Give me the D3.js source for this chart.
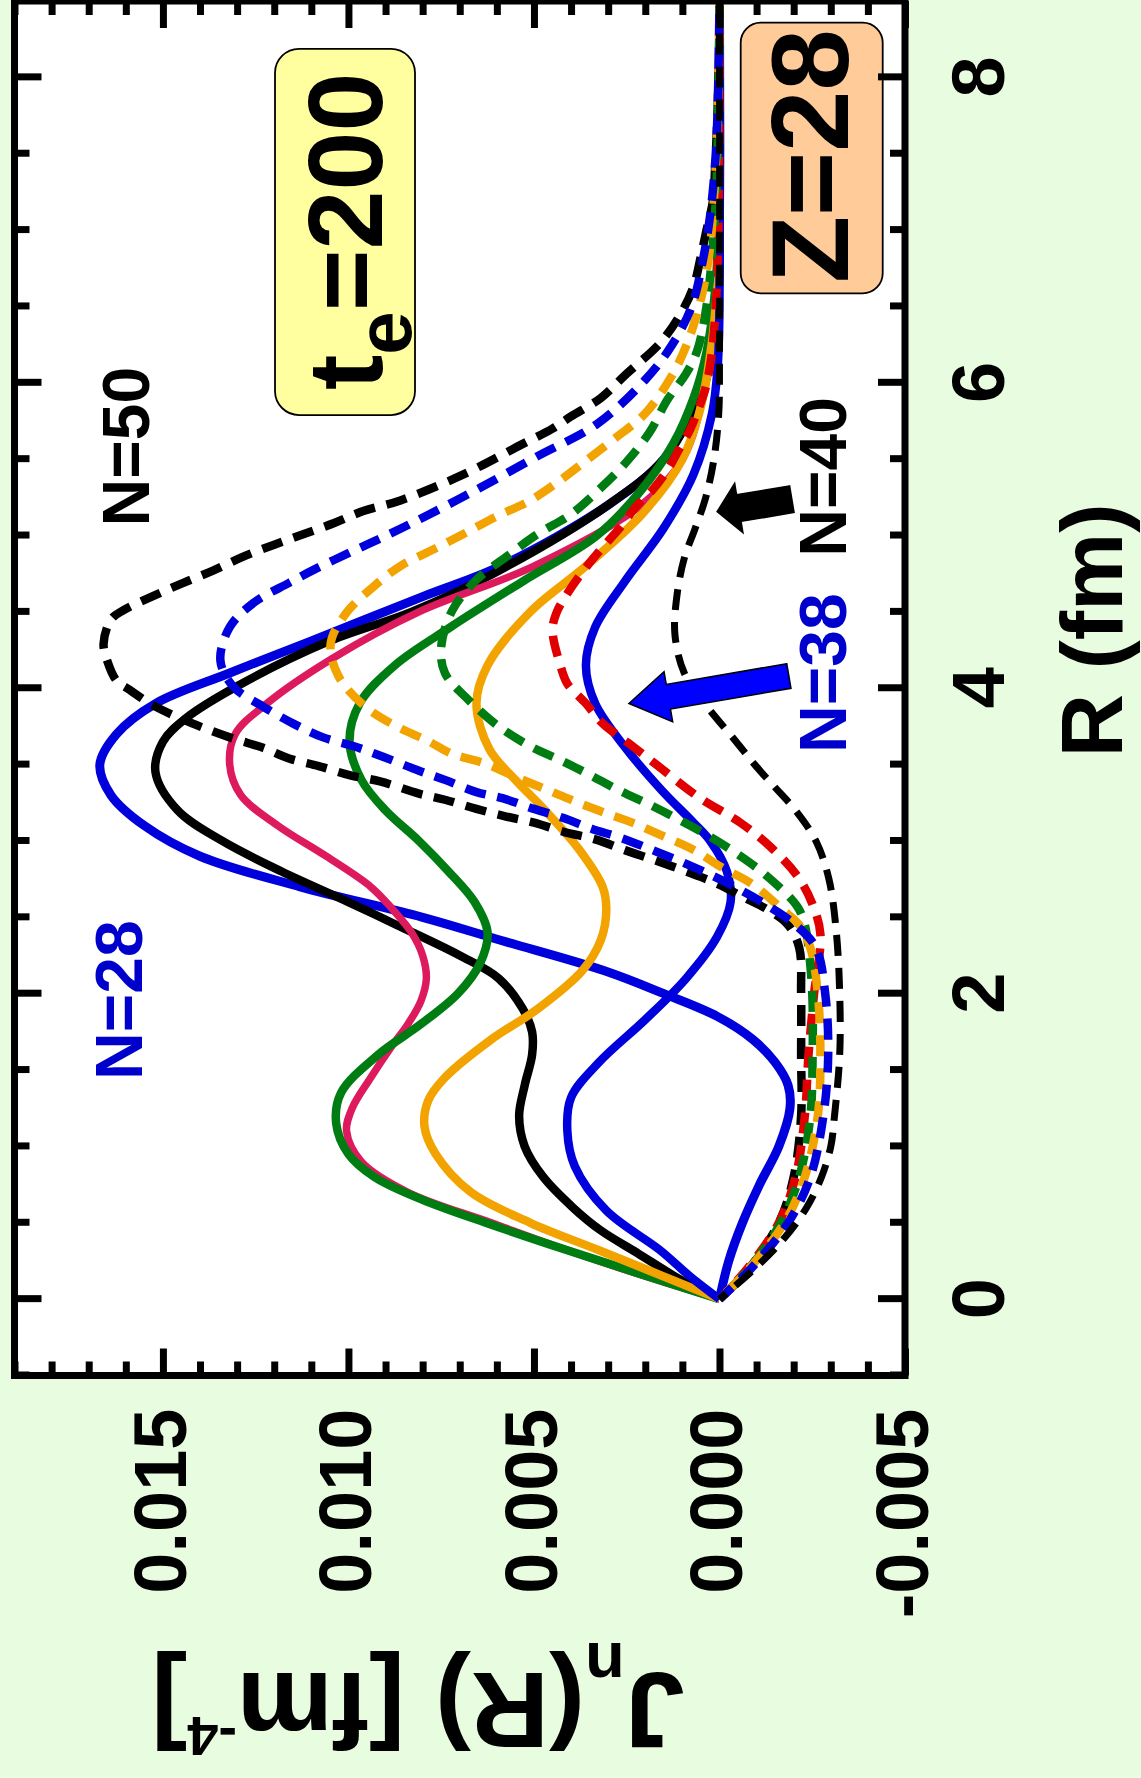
<!DOCTYPE html>
<html>
<head>
<meta charset="utf-8">
<script src="https://cdn.jsdelivr.net/npm/d3@7"></script>
<style>
  body { margin: 0; background: #e8fce0; }
  svg text { font-family: "Liberation Sans", Arial, sans-serif; font-weight: bold; }
</style>
</head>
<body>
<svg id="chart" width="1141" height="1778"></svg>
<script>
// Each series is [R (fm), J_n (1e-3 fm^-4)].
const n28 = [[0,0],[0.25,-0.25],[0.5,-0.62],[0.75,-1.08],[1.0,-1.6],[1.25,-1.9],[1.4,-1.85],[1.55,-1.5],[1.7,-0.9],[1.85,0.05],[2.0,1.5],[2.15,3.1],[2.35,5.9],[2.5,8.0],[2.7,11.3],[2.9,14.0],[3.1,15.5],[3.3,16.4],[3.5,16.7],[3.7,16.25],[3.9,15.2],[4.1,13.2],[4.3,11.1],[4.6,8.0],[4.8,5.9],[5.2,3.0],[5.5,1.5],[5.85,0.7],[6.1,0.3],[6.5,0.05],[7.0,0],[8.5,0]];
const n30 = [[0,0],[0.12,1.0],[0.3,2.2],[0.45,3.2],[0.6,3.95],[0.8,4.75],[1.0,5.25],[1.2,5.4],[1.4,5.25],[1.6,5.05],[1.75,5.05],[1.9,5.3],[2.1,5.95],[2.25,7.0],[2.45,8.7],[2.6,10.0],[2.8,11.8],[3.0,13.4],[3.2,14.6],[3.45,15.2],[3.65,15.0],[3.8,14.4],[4.0,13.1],[4.3,10.6],[4.5,8.3],[4.75,6.1],[5.2,3.0],[5.5,1.5],[5.85,0.65],[6.1,0.27],[6.5,0.05],[7.0,0],[8.5,0]];
const n32 = [[0,0],[0.15,2.0],[0.32,4.1],[0.5,6.15],[0.7,8.4],[0.9,9.65],[1.1,10.05],[1.25,9.9],[1.45,9.4],[1.65,8.85],[1.8,8.4],[1.95,8.05],[2.1,7.9],[2.25,8.0],[2.4,8.3],[2.55,8.8],[2.7,9.4],[2.9,10.6],[3.1,11.9],[3.3,12.9],[3.5,13.2],[3.7,13.05],[3.9,12.2],[4.2,10.4],[4.5,8.1],[4.8,5.0],[5.2,2.1],[5.5,1.0],[5.9,0.45],[6.35,0.15],[7.0,0],[8.5,0]];
const n34 = [[0,0],[0.32,4.1],[0.5,6.3],[0.65,8.0],[0.8,9.3],[0.95,10.0],[1.15,10.33],[1.35,10.2],[1.6,9.2],[1.8,8.05],[2.0,7.05],[2.2,6.45],[2.4,6.25],[2.6,6.6],[2.8,7.3],[3.0,8.1],[3.2,9.0],[3.4,9.65],[3.65,9.97],[3.9,9.7],[4.15,8.75],[4.4,7.25],[4.7,5.3],[5.0,3.3],[5.3,2.1],[5.6,1.25],[5.9,0.7],[6.2,0.35],[6.6,0.12],[7.0,0.03],[8.5,0]];
const n36 = [[0,0],[0.32,3.25],[0.5,5.1],[0.7,6.7],[0.95,7.65],[1.13,7.95],[1.3,7.85],[1.45,7.4],[1.7,6.15],[1.9,4.9],[2.15,3.7],[2.35,3.2],[2.55,3.05],[2.7,3.15],[2.95,3.8],[3.2,4.7],[3.4,5.5],[3.6,6.2],[3.9,6.55],[4.15,6.25],[4.5,5.1],[4.8,3.6],[5.15,2.05],[5.5,1.0],[5.8,0.55],[6.1,0.3],[6.5,0.1],[7.0,0.02],[8.5,0]];
const n38 = [[0,0],[0.15,0.8],[0.32,1.6],[0.58,3.05],[0.87,3.9],[1.1,4.1],[1.32,4.0],[1.55,3.25],[1.83,2.0],[2.1,0.9],[2.37,0.07],[2.6,-0.3],[2.8,-0.2],[3.0,0.25],[3.12,0.7],[3.33,1.55],[3.6,2.5],[3.9,3.35],[4.15,3.6],[4.4,3.35],[4.7,2.55],[5.05,1.5],[5.4,0.7],[5.8,0.2],[6.1,0.05],[6.5,0],[8.5,0]];
const n40 = [[0,0],[0.2,-0.95],[0.4,-1.75],[0.6,-2.35],[0.8,-2.75],[1.0,-3.0],[1.2,-3.1],[1.6,-3.24],[2.0,-3.24],[2.4,-3.15],[2.75,-2.95],[3.0,-2.6],[3.2,-2.05],[3.35,-1.5],[3.5,-0.95],[3.65,-0.45],[3.9,0.4],[4.1,0.95],[4.35,1.2],[4.6,1.15],[4.85,0.95],[5.05,0.65],[5.25,0.37],[5.5,0.15],[5.8,0.02],[6.2,0],[8.5,0]];
const n42 = [[0,0],[0.2,-0.75],[0.5,-1.6],[0.8,-2.05],[1.2,-2.3],[1.6,-2.4],[2.0,-2.55],[2.39,-2.72],[2.59,-2.5],[2.77,-2.1],[2.96,-1.38],[3.12,-0.56],[3.29,0.58],[3.5,1.7],[3.64,2.45],[3.77,3.15],[3.9,3.6],[4.03,4.1],[4.16,4.3],[4.38,4.5],[4.49,4.4],[4.62,4.1],[4.8,3.57],[4.95,3.05],[5.06,2.65],[5.19,2.25],[5.3,1.8],[5.43,1.4],[5.56,1.1],[5.69,0.8],[5.82,0.58],[5.97,0.37],[6.17,0.22],[6.5,0.1],[7.0,0.03],[7.5,0.01],[8.5,0]];
const n44 = [[0,0],[0.2,-0.8],[0.5,-1.65],[0.8,-2.15],[1.2,-2.45],[1.6,-2.51],[2.0,-2.5],[2.3,-2.4],[2.45,-2.3],[2.57,-2.1],[2.77,-1.28],[2.92,-0.45],[3.03,0.27],[3.14,1.1],[3.24,1.9],[3.33,2.7],[3.44,3.55],[3.53,4.3],[3.62,5.1],[3.75,5.95],[3.92,6.75],[4.1,7.4],[4.27,7.5],[4.51,7.2],[4.71,6.55],[4.86,5.75],[5.01,4.9],[5.14,4.0],[5.3,3.25],[5.47,2.55],[5.67,1.9],[5.89,1.4],[6.06,0.9],[6.21,0.6],[6.5,0.35],[6.9,0.18],[7.3,0.08],[8.0,0.02],[8.5,0]];
const n46 = [[0,0],[0.2,-0.8],[0.5,-1.75],[0.8,-2.3],[1.2,-2.65],[1.6,-2.72],[2.0,-2.65],[2.3,-2.45],[2.45,-2.15],[2.55,-1.7],[2.72,-0.87],[2.83,-0.04],[2.94,0.68],[3.03,1.5],[3.12,2.35],[3.19,3.15],[3.26,3.9],[3.33,4.6],[3.42,5.5],[3.51,6.35],[3.57,7.2],[3.66,7.9],[3.75,8.7],[3.88,9.55],[4.08,10.27],[4.29,10.48],[4.49,10.07],[4.66,9.35],[4.8,8.6],[4.91,7.7],[5.01,6.9],[5.12,6.05],[5.23,5.1],[5.36,4.3],[5.49,3.6],[5.63,2.85],[5.8,2.0],[6.04,1.3],[6.24,0.9],[6.5,0.55],[6.8,0.3],[7.2,0.15],[7.6,0.07],[8.0,0.03],[8.5,0]];
const n48 = [[0,0],[0.2,-0.85],[0.5,-1.85],[0.8,-2.45],[1.2,-2.8],[1.6,-2.93],[2.0,-2.85],[2.3,-2.6],[2.45,-2.05],[2.58,-1.28],[2.68,-0.56],[2.77,0.17],[2.86,1.0],[2.94,1.8],[3.02,2.65],[3.08,3.45],[3.15,4.2],[3.21,5.0],[3.28,5.85],[3.32,6.55],[3.4,7.4],[3.46,8.1],[3.55,9.05],[3.62,9.85],[3.68,10.7],[3.77,11.5],[3.88,12.3],[4.01,13.1],[4.18,13.45],[4.4,13.2],[4.56,12.55],[4.69,11.6],[4.78,10.9],[4.89,9.95],[4.98,9.15],[5.08,8.3],[5.28,6.7],[5.52,4.9],[5.73,3.3],[6.02,2.0],[6.24,1.3],[6.5,0.75],[6.8,0.45],[7.1,0.25],[7.5,0.1],[8.0,0.03],[8.5,0]];
const n50 = [[0,0],[0.2,-0.8],[0.5,-1.6],[0.8,-2.0],[1.2,-2.2],[1.6,-2.2],[2.0,-2.2],[2.3,-2.15],[2.45,-1.85],[2.55,-1.3],[2.63,-0.66],[2.72,0.06],[2.8,0.9],[2.87,1.7],[2.94,2.55],[3.01,3.35],[3.06,4.2],[3.12,5.0],[3.16,5.75],[3.21,6.55],[3.27,7.4],[3.31,8.1],[3.39,9.15],[3.43,9.95],[3.49,10.8],[3.54,11.6],[3.61,12.3],[3.67,13.1],[3.74,13.9],[3.81,14.6],[3.9,15.35],[3.99,15.9],[4.05,16.25],[4.18,16.5],[4.29,16.6],[4.45,16.4],[4.51,16.07],[4.6,15.3],[4.69,14.45],[4.77,13.65],[4.86,12.85],[4.94,12.0],[5.01,11.2],[5.08,10.4],[5.16,9.6],[5.23,8.6],[5.4,6.9],[5.6,5.3],[5.7,4.5],[5.78,4.0],[5.9,3.2],[6.06,2.5],[6.26,1.6],[6.45,1.05],[6.63,0.7],[6.83,0.5],[7.0,0.35],[7.2,0.17],[7.4,0.12],[7.6,0.08],[7.8,0.05],[8.0,0.03],[8.2,0.01],[8.5,0]];

const rTicks = [0, 2, 4, 6, 8];
const rTickLabels = ['0', '2', '4', '6', '8'];
const jTicks = [-5, 0, 5, 10, 15];
const jTickLabels = ['-0.005', '0.000', '0.005', '0.010', '0.015'];

// Arrow anchors [R, J].
const arrow38 = { tip: [3.90, 2.44], tail: [4.08, -1.87] };
const arrow40 = { tip: [5.156, 0.064], tail: [5.238, -1.95] };

// Styling per series; solid lines first, dashed drawn on top.
const series = [
  { data: n28, color: '#0000dd', width: 9 },
  { data: n30, color: '#000000', width: 8.5 },
  { data: n32, color: '#de1a5f', width: 7.5 },
  { data: n34, color: '#007d12', width: 8.5 },
  { data: n36, color: '#f2a300', width: 8.5 },
  { data: n38, color: '#0000dd', width: 8.5 },
  { data: n50, color: '#000000', width: 8.5, dash: '21,12', offset: 0 },
  { data: n42, color: '#e00000', width: 8.5, dash: '21,12', offset: 8 },
  { data: n44, color: '#007d12', width: 8.5, dash: '21,12', offset: 16 },
  { data: n46, color: '#f2a300', width: 8.5, dash: '21,12', offset: 24 },
  { data: n48, color: '#0000dd', width: 8.5, dash: '21,12', offset: 4 },
  { data: n40, color: '#000000', width: 7, dash: '21,12', offset: 12 },
];

// The whole plot is drawn unrotated (R along x) and then turned by -90 degrees.
const W = 1374.5, H = 890.5;
const OX = 14.5, OY = 1375.5;
const FONT = '"Liberation Sans", Arial, sans-serif';

const svg = d3.select('#chart');
const g = svg.append('g').attr('transform', `translate(${OX},${OY}) rotate(-90)`);

const x = d3.scaleLinear().domain([-0.5, 8.5]).range([0, W]);
const y = d3.scaleLinear().domain([-5, 19]).range([H, 0]);

g.append('rect').attr('width', W).attr('height', H).attr('fill', '#fff');

svg.append('defs').append('clipPath').attr('id', 'plot-clip')
  .append('rect').attr('width', W).attr('height', H);

const line = d3.line()
  .x((d) => x(d[0]))
  .y((d) => y(d[1]))
  .curve(d3.curveCatmullRom.alpha(0.5));

g.append('g').attr('clip-path', 'url(#plot-clip)')
  .selectAll('path')
  .data(series)
  .join('path')
    .attr('d', (d) => line(d.data))
    .attr('fill', 'none')
    .attr('stroke', (d) => d.color)
    .attr('stroke-width', (d) => d.width)
    .attr('stroke-dasharray', (d) => d.dash || null)
    .attr('stroke-dashoffset', (d) => d.offset || 0)
    .attr('stroke-linejoin', 'round');

// Block arrows pointing at the N=38 and N=40 curves.
const arrowPath = (a, shaft, head, headLen) => {
  const tip = [x(a.tip[0]), y(a.tip[1])];
  const tail = [x(a.tail[0]), y(a.tail[1])];
  const len = Math.hypot(tip[0] - tail[0], tip[1] - tail[1]);
  const u = [(tip[0] - tail[0]) / len, (tip[1] - tail[1]) / len];
  const n = [-u[1], u[0]];
  const base = [tip[0] - u[0] * headLen, tip[1] - u[1] * headLen];
  const pt = (p, k) => [p[0] + n[0] * k, p[1] + n[1] * k];
  return d3.line()([
    pt(tail, shaft / 2), pt(base, shaft / 2), pt(base, head / 2), tip,
    pt(base, -head / 2), pt(base, -shaft / 2), pt(tail, -shaft / 2),
  ]) + 'Z';
};

g.append('path').attr('d', arrowPath(arrow38, 25, 51, 40))
  .attr('fill', '#0000ff').attr('stroke', '#000').attr('stroke-width', 1.5);
g.append('path').attr('d', arrowPath(arrow40, 27, 50, 22))
  .attr('fill', '#000').attr('stroke', '#000').attr('stroke-width', 1.5);

// Curve labels.
const labels = [
  { text: 'N=50', r: 5.059, j: 15.375, color: '#000' },
  { text: 'N=28', r: 1.435, j: 15.56, color: '#0000cc' },
  { text: 'N=38', r: 3.576, j: -3.40, color: '#0000cc' },
  { text: 'N=40', r: 4.861, j: -3.40, color: '#000' },
];
g.selectAll('.nlabel')
  .data(labels)
  .join('text')
    .attr('class', 'nlabel')
    .attr('x', (d) => x(d.r))
    .attr('y', (d) => y(d.j))
    .attr('font-size', 66)
    .attr('fill', (d) => d.color)
    .text((d) => d.text);

// Boxed annotations.
g.append('rect')
  .attr('x', x(5.789)).attr('y', y(11.979))
  .attr('width', x(8.186) - x(5.789)).attr('height', y(8.206) - y(11.979))
  .attr('rx', 24).attr('fill', '#ffffa0').attr('stroke', '#000').attr('stroke-width', 1.8);
const te = g.append('text')
  .attr('x', x(5.953)).attr('y', y(9.095))
  .attr('font-size', 106).attr('fill', '#000');
te.append('tspan').text('t');
te.append('tspan').attr('font-size', 78).attr('dy', 29).text('e');
te.append('tspan').attr('dy', -29).text('=200');

g.append('rect')
  .attr('x', x(6.586)).attr('y', y(-0.572))
  .attr('width', x(8.358) - x(6.586)).attr('height', y(-4.399) - y(-0.572))
  .attr('rx', 20).attr('fill', '#ffcc99').attr('stroke', '#000').attr('stroke-width', 1.8);
g.append('text')
  .attr('x', x(6.653)).attr('y', y(-3.464))
  .attr('font-size', 110).attr('fill', '#000')
  .text('Z=28');

// Axes: ticks point inward on all four sides.
const styleAxis = (sel) => {
  sel.select('.domain').remove();
  sel.attr('font-family', FONT).attr('font-size', 74).attr('font-weight', 'bold');
  sel.selectAll('line').attr('stroke-width', 7);
};
const rMinor = d3.range(-0.5, 8.51, 0.5).filter((v) => !rTicks.includes(v));
const jMinor = d3.range(-5, 19.5, 1).filter((v) => !jTicks.includes(v));

g.append('g').attr('transform', `translate(0,${H})`)
  .call(d3.axisBottom(x).tickValues(rTicks).tickSizeInner(-27).tickSizeOuter(0)
    .tickFormat((d) => rTickLabels[rTicks.indexOf(d)]))
  .call(styleAxis)
  .call((a) => a.selectAll('text').attr('y', 99).attr('dy', 0));
g.append('g').attr('transform', `translate(0,${H})`)
  .call(d3.axisBottom(x).tickValues(rMinor).tickSizeInner(-15).tickSizeOuter(0).tickFormat(''))
  .call(styleAxis);
g.append('g')
  .call(d3.axisTop(x).tickValues(rTicks).tickSizeInner(-27).tickSizeOuter(0).tickFormat(''))
  .call(styleAxis);
g.append('g')
  .call(d3.axisTop(x).tickValues(rMinor).tickSizeInner(-15).tickSizeOuter(0).tickFormat(''))
  .call(styleAxis);

g.append('g')
  .call(d3.axisLeft(y).tickValues(jTicks).tickSizeInner(-27).tickSizeOuter(0)
    .tickFormat((d) => jTickLabels[jTicks.indexOf(d)]))
  .call(styleAxis)
  .call((a) => a.selectAll('text').attr('x', -33).attr('dy', '0.3em'));
g.append('g')
  .call(d3.axisLeft(y).tickValues(jMinor).tickSizeInner(-14).tickSizeOuter(0).tickFormat(''))
  .call(styleAxis);
g.append('g').attr('transform', `translate(${W},0)`)
  .call(d3.axisRight(y).tickValues(jTicks).tickSizeInner(-27).tickSizeOuter(0).tickFormat(''))
  .call(styleAxis);
g.append('g').attr('transform', `translate(${W},0)`)
  .call(d3.axisRight(y).tickValues(jMinor).tickSizeInner(-14).tickSizeOuter(0).tickFormat(''))
  .call(styleAxis);

// Frame
g.append('rect').attr('width', W).attr('height', H)
  .attr('fill', 'none').attr('stroke', '#000').attr('stroke-width', 7);

// Axis titles
g.append('text')
  .attr('x', 745).attr('y', H + 217)
  .attr('text-anchor', 'middle').attr('font-size', 88)
  .text('R (fm)');

const yt = g.append('text')
  .attr('transform', 'translate(-297.5,403.5) rotate(-90)')
  .attr('text-anchor', 'middle').attr('font-size', 108);
yt.append('tspan').text('J');
yt.append('tspan').attr('font-size', 65).attr('dy', 30).text('n');
yt.append('tspan').attr('dy', -30).text('(R) [fm');
yt.append('tspan').attr('font-size', 56).attr('dy', -44).text('-4');
yt.append('tspan').attr('dy', 44).text(']');
</script>
</body>
</html>
